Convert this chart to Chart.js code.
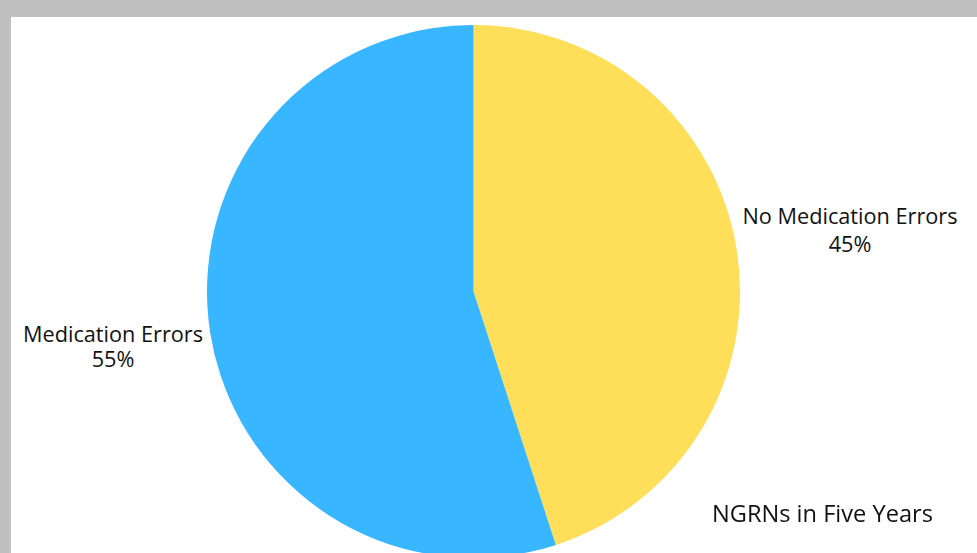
<!DOCTYPE html>
<html>
<head>
<meta charset="utf-8">
<script src="https://cdn.jsdelivr.net/npm/chart.js@4.4.1/dist/chart.umd.min.js"></script>
<style>
  html, body { margin: 0; padding: 0; }
  body { width: 977px; height: 553px; background: #c0c0c0; overflow: hidden; position: relative; font-family: "Open Sans", sans-serif; }
  #panel { position: absolute; left: 11px; top: 17px; right: 0; bottom: 0; background: #ffffff; }
  #pie { position: absolute; left: 207px; top: 25px; }
  .label { position: absolute; color: #111; font-size: 21.7px; text-align: center; white-space: nowrap; }
  #title { position: absolute; left: 712px; top: 496.5px; font-size: 23.6px; color: #111; white-space: nowrap; }
</style>
</head>
<body>
<div id="panel"></div>
<canvas id="pie" width="533" height="533"></canvas>
<div id="label-0" class="label"></div>
<div id="label-1" class="label"></div>
<div id="title">NGRNs in Five Years</div>
<script>
const CATEGORIES = ["No Medication Errors", "Medication Errors"];
const PERCENTS = [45, 55];
const COLORS = ["#ffde59", "#38b6ff"];

// label anchor centres (x centre, top, line height)
const LABEL_SPOTS = [
  { cx: 850, top: 202, lh: 27.5 },
  { cx: 113, top: 320.5, lh: 25.5 },
];

CATEGORIES.forEach((name, i) => {
  const el = document.getElementById(`label-${i}`);
  el.innerHTML = `${name}<br>${PERCENTS[i]}%`;
  el.style.top = LABEL_SPOTS[i].top + "px";
  el.style.left = LABEL_SPOTS[i].cx + "px";
  el.style.lineHeight = LABEL_SPOTS[i].lh + "px";
  el.style.transform = "translateX(-50%)";
});

new Chart(document.getElementById("pie"), {
  type: "pie",
  data: {
    labels: CATEGORIES,
    datasets: [{ data: PERCENTS, backgroundColor: COLORS, borderWidth: 0 }],
  },
  options: {
    responsive: false,
    animation: false,
    layout: { padding: 0 },
    plugins: { legend: { display: false }, tooltip: { enabled: false } },
  },
});
</script>
</body>
</html>
